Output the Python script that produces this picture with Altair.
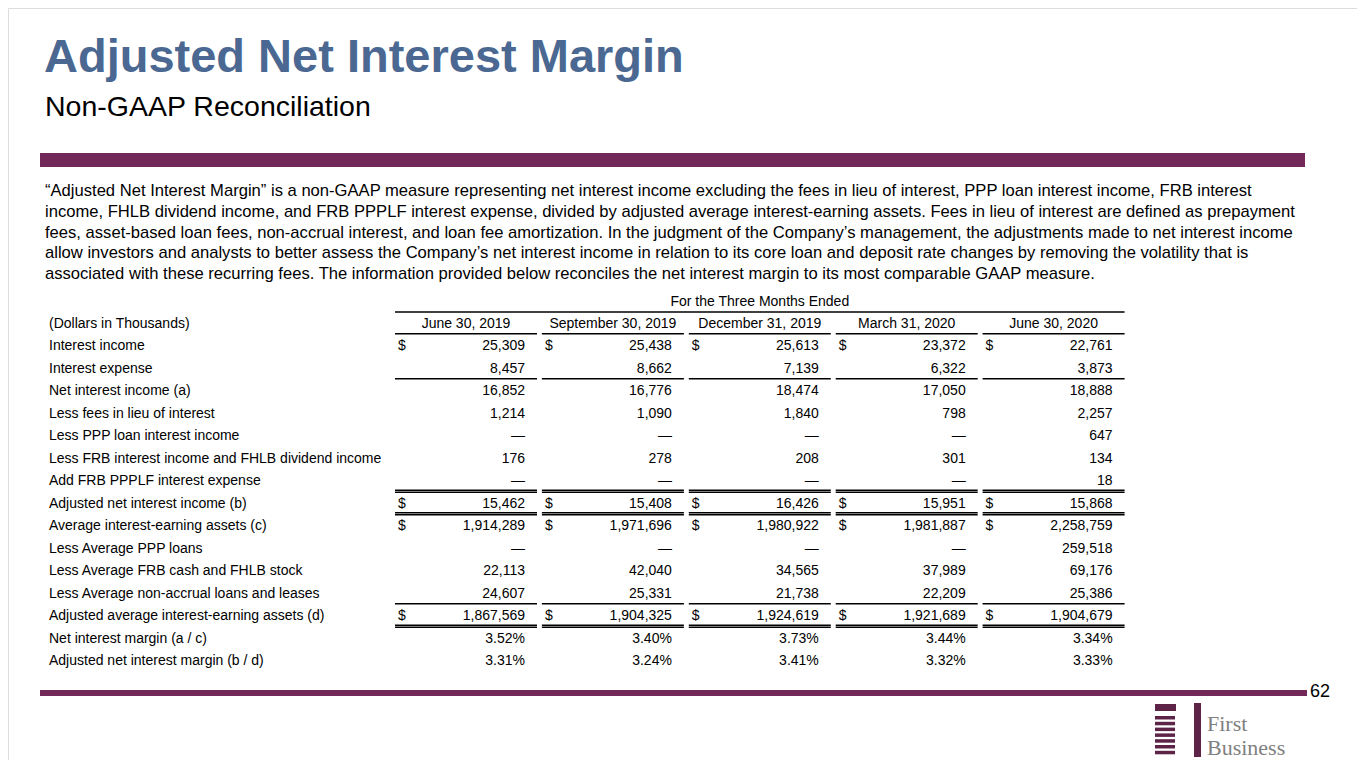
import altair as alt
import pandas as pd

# ---------------- data ----------------
title = "Adjusted Net Interest Margin"
subtitle = "Non-GAAP Reconciliation"
paragraph = [
    "“Adjusted Net Interest Margin” is a non-GAAP measure representing net interest income excluding the fees in lieu of interest, PPP loan interest income, FRB interest",
    "income, FHLB dividend income, and FRB PPPLF interest expense, divided by adjusted average interest-earning assets. Fees in lieu of interest are defined as prepayment",
    "fees, asset-based loan fees, non-accrual interest, and loan fee amortization. In the judgment of the Company’s management, the adjustments made to net interest income",
    "allow investors and analysts to better assess the Company’s net interest income in relation to its core loan and deposit rate changes by removing the volatility that is",
    "associated with these recurring fees. The information provided below reconciles the net interest margin to its most comparable GAAP measure.",
]
group_header = "For the Three Months Ended"
unit_label = "(Dollars in Thousands)"
periods = ["June 30, 2019", "September 30, 2019", "December 31, 2019", "March 31, 2020", "June 30, 2020"]

row_labels = [
    "Interest income",
    "Interest expense",
    "Net interest income (a)",
    "Less fees in lieu of interest",
    "Less PPP loan interest income",
    "Less FRB interest income and FHLB dividend income",
    "Add FRB PPPLF interest expense",
    "Adjusted net interest income (b)",
    "Average interest-earning assets (c)",
    "Less Average PPP loans",
    "Less Average FRB cash and FHLB stock",
    "Less Average non-accrual loans and leases",
    "Adjusted average interest-earning assets (d)",
    "Net interest margin (a / c)",
    "Adjusted net interest margin (b / d)",
]
interest_income = [25309, 25438, 25613, 23372, 22761]
interest_expense = [8457, 8662, 7139, 6322, 3873]
net_interest_income = [16852, 16776, 18474, 17050, 18888]
fees_in_lieu = [1214, 1090, 1840, 798, 2257]
ppp_loan_income = [None, None, None, None, 647]
frb_fhlb_income = [176, 278, 208, 301, 134]
frb_ppplf_expense = [None, None, None, None, 18]
adj_net_interest_income = [15462, 15408, 16426, 15951, 15868]
avg_earning_assets = [1914289, 1971696, 1980922, 1981887, 2258759]
avg_ppp_loans = [None, None, None, None, 259518]
avg_frb_fhlb = [22113, 42040, 34565, 37989, 69176]
avg_nonaccrual = [24607, 25331, 21738, 22209, 25386]
adj_avg_earning_assets = [1867569, 1904325, 1924619, 1921689, 1904679]
net_interest_margin = [3.52, 3.40, 3.73, 3.44, 3.34]
adj_net_interest_margin = [3.31, 3.24, 3.41, 3.32, 3.33]

rows = [interest_income, interest_expense, net_interest_income, fees_in_lieu, ppp_loan_income,
        frb_fhlb_income, frb_ppplf_expense, adj_net_interest_income, avg_earning_assets,
        avg_ppp_loans, avg_frb_fhlb, avg_nonaccrual, adj_avg_earning_assets,
        net_interest_margin, adj_net_interest_margin]
dollar_rows = [0, 7, 8, 12]
percent_rows = [13, 14]
page_number = "62"

# ---------------- layout ----------------
W, H = 1349, 752
XS = alt.Scale(domain=[8, 8 + W], nice=False, zero=False)
YS = alt.Scale(domain=[8, 8 + H], nice=False, zero=False, reverse=True)
FONT = "Liberation Sans"
TITLE_BLUE = "#4a6891"
PURPLE = "#722858"
LOGO_PURPLE = "#5e2448"
TABLE_SIZE = 14

row_y0, row_dy = 346, 22.5
header_y = row_y0 - row_dy
seg_left0, seg_pitch, seg_w = 395, 146.9, 142
label_x = 49


def row_y(i):
    return row_y0 + row_dy * i


def fmt(v, i):
    if v is None:
        return "—"
    if i in percent_rows:
        return f"{v:.2f}%"
    return f"{v:,}"


def text_layer(df, align="left", size=TABLE_SIZE, color="#000000", weight="normal", font=FONT, baseline="middle"):
    return alt.Chart(df).mark_text(
        align=align, baseline=baseline, fontSize=size, color=color, fontWeight=weight, font=font
    ).encode(
        x=alt.X("x:Q", scale=XS, axis=None),
        y=alt.Y("y:Q", scale=YS, axis=None),
        text="t:N",
    )


def rect_layer(df, color):
    return alt.Chart(df).mark_rect(color=color).encode(
        x=alt.X("x:Q", scale=XS, axis=None), x2="x2:Q",
        y=alt.Y("y:Q", scale=YS, axis=None), y2="y2:Q",
    )


def rule_layer(df, width=1.3):
    return alt.Chart(df).mark_rule(color="#000000", strokeWidth=width).encode(
        x=alt.X("x:Q", scale=XS, axis=None), x2="x2:Q",
        y=alt.Y("y:Q", scale=YS, axis=None),
    )


layers = []

# title and subtitle
layers.append(text_layer(pd.DataFrame({"x": [44], "y": [72], "t": [title]}), size=47, color=TITLE_BLUE,
                         weight="bold", baseline="alphabetic"))
layers.append(text_layer(pd.DataFrame({"x": [45], "y": [116], "t": [subtitle]}), size=28.5, baseline="alphabetic"))

# top & bottom purple bands
layers.append(rect_layer(pd.DataFrame({"x": [40, 40], "x2": [1305, 1307], "y": [153, 690], "y2": [167, 696]}), PURPLE))

# paragraph
layers.append(text_layer(pd.DataFrame({
    "x": [45] * len(paragraph),
    "y": [191 + 20.75 * k for k in range(len(paragraph))],
    "t": paragraph,
}), size=16.6))

# table headers
seg_l = [seg_left0 + seg_pitch * j for j in range(5)]
seg_r = [l + seg_w for l in seg_l]
layers.append(text_layer(pd.DataFrame({"x": [(seg_l[0] + seg_r[-1]) / 2], "y": [302], "t": [group_header]}), align="center"))
layers.append(text_layer(pd.DataFrame({"x": [label_x], "y": [header_y], "t": [unit_label]})))
layers.append(text_layer(pd.DataFrame({"x": [(l + r) / 2 for l, r in zip(seg_l, seg_r)], "y": [header_y] * 5, "t": periods}), align="center"))

# row labels
layers.append(text_layer(pd.DataFrame({"x": [label_x] * len(row_labels), "y": [row_y(i) for i in range(len(row_labels))], "t": row_labels})))

# values
vals, dollars = [], []
for i, r in enumerate(rows):
    for j, v in enumerate(r):
        vals.append({"x": seg_r[j] - 12, "y": row_y(i), "t": fmt(v, i)})
        if i in dollar_rows:
            dollars.append({"x": seg_l[j] + 3, "y": row_y(i), "t": "$"})
layers.append(text_layer(pd.DataFrame(vals), align="right"))
layers.append(text_layer(pd.DataFrame(dollars)))

# table rules
rules = [{"x": seg_l[0], "x2": seg_r[-1], "y": 312}]
single_after = [-1, 1, 11]
double_after = [6, 7, 12]
for i in single_after:
    y = (row_y(i) + row_y(i + 1)) / 2 - 1
    for j in range(5):
        rules.append({"x": seg_l[j], "x2": seg_r[j], "y": y})
for i in double_after:
    y = (row_y(i) + row_y(i + 1)) / 2
    for j in range(5):
        rules.append({"x": seg_l[j], "x2": seg_r[j], "y": y - 2})
        rules.append({"x": seg_l[j], "x2": seg_r[j], "y": y})
layers.append(rule_layer(pd.DataFrame(rules)))

# page number
layers.append(text_layer(pd.DataFrame({"x": [1310], "y": [692], "t": [page_number]}), size=18))

# logo
logo = [{"x": 1155, "x2": 1176, "y": 704, "y2": 711}]
for k in range(7):
    logo.append({"x": 1155, "x2": 1175, "y": 716 + 5.8 * k, "y2": 719.5 + 5.8 * k})
logo.append({"x": 1194, "x2": 1201, "y": 703, "y2": 757})
layers.append(rect_layer(pd.DataFrame(logo), LOGO_PURPLE))
layers.append(text_layer(pd.DataFrame({"x": [1207, 1207], "y": [731, 755], "t": ["First", "Business"]}),
                         size=22, color="#7f7f7f", font="Liberation Serif", baseline="alphabetic"))

chart = alt.layer(*layers).properties(
    width=W, height=H, padding=0, autosize=alt.AutoSizeParams(type="none")
).configure_view(stroke=None).configure(background="#ffffff")

chart.save("out.html", embed_options={"renderer": "svg", "actions": False})
